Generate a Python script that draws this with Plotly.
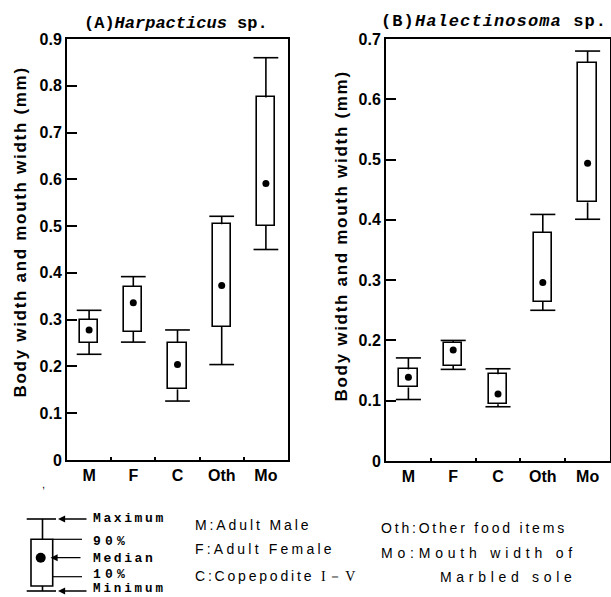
import plotly.graph_objects as go

W, H = 611, 597

categories = ["M", "F", "C", "Oth", "Mo"]
cat_pos = [0, 1, 2, 3, 4]
boundary_ticks = [0.5, 1.5, 2.5, 3.5]

# Panel A: Harpacticus sp. (mm)
a_min = [0.226, 0.252, 0.126, 0.204, 0.450]
a_p10 = [0.250, 0.274, 0.151, 0.285, 0.500]
a_median = [0.278, 0.336, 0.204, 0.373, 0.591]
a_p90 = [0.300, 0.370, 0.251, 0.504, 0.775]
a_max = [0.320, 0.392, 0.278, 0.521, 0.860]
a_yticks = [0, 0.1, 0.2, 0.3, 0.4, 0.5, 0.6, 0.7, 0.8, 0.9]

# Panel B: Halectinosoma sp. (mm)
b_min = [0.102, 0.152, 0.090, 0.250, 0.401]
b_p10 = [0.122, 0.158, 0.094, 0.264, 0.429]
b_median = [0.139, 0.184, 0.111, 0.296, 0.494]
b_p90 = [0.152, 0.196, 0.144, 0.379, 0.661]
b_max = [0.171, 0.200, 0.153, 0.409, 0.680]
b_yticks = [0, 0.1, 0.2, 0.3, 0.4, 0.5, 0.6, 0.7]

SANS = "Liberation Sans, Arial, sans-serif"
MONO = "Liberation Mono, DejaVu Sans Mono, monospace"
LW = 1.6
CAP_HALF = 0.28
BOX_W = 0.41


def px_x(px):
    return px / W


def px_y(py):
    return 1 - py / H


def whisker_xy(p10, p90, lo, hi):
    xs, ys = [], []
    for i, xc in enumerate(cat_pos):
        xs += [xc, xc, None, xc - CAP_HALF, xc + CAP_HALF, None,
               xc, xc, None, xc - CAP_HALF, xc + CAP_HALF, None]
        ys += [p90[i], hi[i], None, hi[i], hi[i], None,
               p10[i], lo[i], None, lo[i], lo[i], None]
    return xs, ys


fig = go.Figure()

panels = [
    ("x", "y", a_min, a_p10, a_median, a_p90, a_max),
    ("x2", "y2", b_min, b_p10, b_median, b_p90, b_max),
]
for xa, ya, lo, p10, med, p90, hi in panels:
    fig.add_trace(go.Bar(
        x=cat_pos, base=p10, y=[t - b for t, b in zip(p90, p10)], width=BOX_W,
        marker=dict(color="white", line=dict(color="black", width=LW)),
        xaxis=xa, yaxis=ya, showlegend=False, hoverinfo="skip"))
    wx, wy = whisker_xy(p10, p90, lo, hi)
    fig.add_trace(go.Scatter(
        x=wx, y=wy, mode="lines", line=dict(color="black", width=LW),
        xaxis=xa, yaxis=ya, showlegend=False, hoverinfo="skip"))
    fig.add_trace(go.Scatter(
        x=cat_pos, y=med, mode="markers",
        marker=dict(color="black", size=7),
        xaxis=xa, yaxis=ya, showlegend=False, hoverinfo="skip"))

tick_font = dict(family=SANS, size=16, color="black", weight="bold")


def xaxis_cfg(x0, x1, anchor):
    return dict(domain=[px_x(x0), px_x(x1)], range=[-0.5, 4.5],
                tickmode="array", tickvals=cat_pos, ticktext=categories,
                ticks="", showline=True, mirror=True, linecolor="black",
                linewidth=2, showgrid=False, zeroline=False, tickfont=tick_font,
                anchor=anchor, automargin=False,
                minor=dict(tickmode="array", tickvals=boundary_ticks,
                           ticks="inside", ticklen=3, tickwidth=1.5,
                           tickcolor="black", showgrid=False))


def yaxis_cfg(y_top, y_bot, rng, tv, anchor):
    return dict(domain=[px_y(y_bot), px_y(y_top)], range=rng,
                tickmode="array", tickvals=tv, ticks="inside", ticklen=10,
                tickwidth=1.5, tickcolor="black", showline=True, mirror=True,
                linecolor="black", linewidth=2, showgrid=False, zeroline=False,
                tickfont=tick_font, anchor=anchor, automargin=False)


annotations = []


def add_text(text, x, y, size, family=SANS, xanchor="left", angle=0,
             spacing=0, weight="normal"):
    if spacing:
        text = '<span style="letter-spacing:%spx">%s</span>' % (spacing, text)
    annotations.append(dict(
        text=text, x=px_x(x), y=px_y(y), xref="paper", yref="paper",
        xanchor=xanchor, yanchor="middle", showarrow=False, textangle=angle,
        font=dict(family=family, size=size, color="black", weight=weight)))


# panel titles
add_text("(A)<i>Harpacticus</i> sp.", 82, 23, 17, family=MONO, weight="bold")
add_text("(B)<i>Halectinosoma</i> sp.", 379, 22, 17, family=MONO,
         spacing=1.1, weight="bold")

# y axis titles
add_text("Body width and mouth width (mm)", 20, 232.5, 17, xanchor="center",
         angle=-90, spacing=1.7, weight="bold")
add_text("Body width and mouth width (mm)", 341, 236.5, 17, xanchor="center",
         angle=-90, spacing=1.7, weight="bold")

# stray mark seen below panel A
add_text(",", 40, 484, 11)

# legend texts (schematic)
add_text("Maximum", 91, 518, 13, family=MONO, spacing=2.6, weight="bold")
add_text("90%", 91, 541, 13, family=MONO, spacing=4.2, weight="bold")
add_text("Median", 91, 558, 13, family=MONO, spacing=2.6, weight="bold")
add_text("10%", 91, 574, 13, family=MONO, spacing=4.2, weight="bold")
add_text("Minimum", 91, 589, 12.5, family=MONO, spacing=2.9, weight="bold")

# category key
add_text("M:Adult Male", 193, 525, 14, spacing=2.9)
add_text("F:Adult Female", 193, 549, 14, spacing=3.2)
add_text('C:Copepodite <span style="font-family:Liberation Serif">I</span>－'
         '<span style="font-family:Liberation Serif">V</span>', 193, 576, 14,
         spacing=2.8)
add_text("Oth:Other food items", 379, 528, 14, spacing=2.8)
add_text("Mo:Mouth width of", 379, 553, 14, spacing=4.8)
add_text("Marbled sole", 438, 577, 14, spacing=4.7)

# arrows in the schematic
for head_x, yy, tail_x in [(58, 519, 88), (50.5, 557.7, 82), (58, 591, 88)]:
    annotations.append(dict(
        text="", x=px_x(head_x), y=px_y(yy), xref="paper", yref="paper",
        ax=tail_x - head_x, ay=0, showarrow=True, arrowhead=2, arrowsize=1.1,
        arrowwidth=1.3, arrowcolor="black", standoff=0))

shapes = []


def seg(x0, y0, x1, y1, w=1.6):
    shapes.append(dict(type="line", xref="paper", yref="paper",
                       x0=px_x(x0), y0=px_y(y0), x1=px_x(x1), y1=px_y(y1),
                       line=dict(color="black", width=w)))


seg(26.7, 519, 56, 519)
seg(42.5, 519, 42.5, 539.3)
shapes.append(dict(type="rect", xref="paper", yref="paper",
                   x0=px_x(31), y0=px_y(586), x1=px_x(52.7), y1=px_y(539.3),
                   line=dict(color="black", width=1.6), fillcolor="white"))
seg(52.7, 539.3, 82, 539.3, 1.2)
seg(52.7, 576.7, 82, 576.7, 1.2)
seg(42.5, 586, 42.5, 591)
seg(26.7, 591, 56, 591)
shapes.append(dict(type="circle", xref="paper", yref="paper",
                   x0=px_x(35.7), y0=px_y(562.7), x1=px_x(45.7), y1=px_y(552.7),
                   line=dict(color="black", width=0), fillcolor="black"))

fig.update_layout(
    template="none",
    width=W, height=H, autosize=False,
    margin=dict(l=0, r=0, t=0, b=0, pad=0, autoexpand=False),
    paper_bgcolor="white", plot_bgcolor="white",
    showlegend=False, bargap=0,
    xaxis=xaxis_cfg(67, 288, "y"),
    yaxis=yaxis_cfg(39, 460, [0, 0.9], a_yticks, "x"),
    xaxis2=xaxis_cfg(386, 610, "y2"),
    yaxis2=yaxis_cfg(39, 461, [0, 0.7], b_yticks, "x2"),
    annotations=annotations, shapes=shapes,
)

fig.write_html(
    "out.html",
    config=dict(displayModeBar=False, responsive=False),
    post_script="document.body.style.margin='0';"
                "document.body.style.padding='0';"
                "document.body.style.overflow='hidden';",
)
